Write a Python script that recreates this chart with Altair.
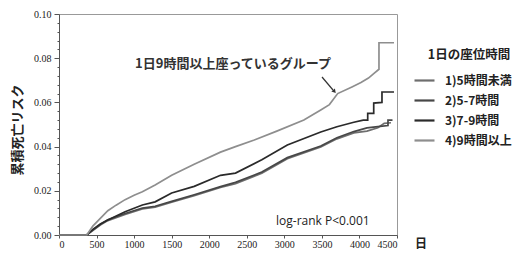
import altair as alt
import pandas as pd

# ---- data ----
labels = ["1)5時間未満", "2)5-7時間", "3)7-9時間", "4)9時間以上"]
colors = ["#6e6e6e", "#474747", "#2a2a2a", "#8e8e8e"]

g1_days = [0, 370, 450, 550, 650, 880, 1110, 1280, 1500, 1800, 2150, 2350, 2700, 3040, 3485, 3700, 3925, 4100, 4245, 4330, 4420]
g1_risk = [0, 0, 0.002, 0.0045, 0.0065, 0.0093, 0.0118, 0.0126, 0.0148, 0.0178, 0.0215, 0.0232, 0.028, 0.0345, 0.0398, 0.0435, 0.0462, 0.0470, 0.0485, 0.0505, 0.0508]

g2_days = [0, 370, 450, 550, 650, 880, 1110, 1280, 1500, 1800, 2150, 2350, 2700, 3040, 3485, 3700, 3925, 4100, 4245, 4380, 4380, 4440]
g2_risk = [0, 0, 0.0022, 0.0048, 0.0069, 0.0097, 0.0122, 0.0130, 0.0152, 0.0182, 0.0219, 0.0238, 0.0285, 0.0350, 0.0403, 0.0440, 0.0468, 0.0485, 0.0490, 0.0495, 0.0520, 0.0520]

g3_days = [0, 370, 450, 550, 650, 880, 1110, 1280, 1500, 1800, 2150, 2350, 2700, 3040, 3485, 3700, 3925, 4050, 4110, 4110, 4190, 4190, 4300, 4300, 4460]
g3_risk = [0, 0, 0.0025, 0.005, 0.0068, 0.0105, 0.0136, 0.015, 0.019, 0.022, 0.027, 0.028, 0.034, 0.0407, 0.0466, 0.049, 0.051, 0.052, 0.052, 0.055, 0.055, 0.0597, 0.0600, 0.0647, 0.0647]

g4_days = [0, 370, 450, 550, 650, 760, 880, 1000, 1110, 1280, 1500, 1800, 2150, 2350, 2600, 2900, 3260, 3485, 3600, 3710, 3900, 4020, 4120, 4190, 4260, 4260, 4460]
g4_risk = [0, 0, 0.004, 0.0075, 0.011, 0.0135, 0.016, 0.018, 0.0196, 0.0226, 0.027, 0.032, 0.0375, 0.040, 0.043, 0.047, 0.052, 0.0566, 0.059, 0.064, 0.067, 0.069, 0.071, 0.073, 0.075, 0.087, 0.087]

x_ticks = [0, 500, 1000, 1500, 2000, 2500, 3000, 3500, 4000, 4500]

rows = []
for lab, days, risk in zip(labels, [g1_days, g2_days, g3_days, g4_days],
                           [g1_risk, g2_risk, g3_risk, g4_risk]):
    for i, (d, r) in enumerate(zip(days, risk)):
        rows.append({"group": lab, "day": d, "risk": r, "idx": i})
df = pd.DataFrame(rows)

y_ticks = [round(i * 0.004, 3) for i in range(26)]
is_major = "abs(datum.value*50 - round(datum.value*50)) < 0.001"

W, H = 338, 221
CJK = "Noto Sans CJK JP"

lines = alt.Chart(df).mark_line(strokeWidth=1.7).encode(
    x=alt.X("day:Q", scale=alt.Scale(domain=[0, 4500], nice=False),
            axis=alt.Axis(values=x_ticks, title=None, format="d", tickSize=3,
                          labelPadding=1, labelOverlap=False)),
    y=alt.Y("risk:Q", scale=alt.Scale(domain=[0, 0.1], nice=False),
            axis=alt.Axis(values=y_ticks, title=None, labelOverlap=False,
                          labelExpr=f"{is_major} ? format(datum.value, '.2f') : ''",
                          tickSize={"condition": {"test": is_major, "value": 5}, "value": 2},
                          labelPadding=3)),
    color=alt.Color("group:N", scale=alt.Scale(domain=labels, range=colors),
                    legend=alt.Legend(title=None, orient="none", legendX=354, legendY=55,
                                      symbolType="stroke", symbolSize=400,
                                      symbolStrokeWidth=2.2, labelFont=CJK,
                                      labelFontSize=12, labelFontWeight="bold",
                                      labelColor="#222", labelOffset=9, rowPadding=2)),
    order="idx:Q",
)

def txt(text, x, y, size, weight="bold", font=CJK, align="center", angle=0, color="#222"):
    kw = dict(fontSize=size, fontWeight=weight, font=font, align=align,
              baseline="middle", color=color)
    if angle:
        kw["angle"] = angle
    return alt.Chart(pd.DataFrame({"t": [text]})).mark_text(**kw).encode(
        text="t:N", x=alt.value(x), y=alt.value(y))

annot = txt("1日9時間以上座っているグループ", 174, 50, 13, color="#333")
ytitle = txt("累積死亡リスク", -41, 116, 13, angle=270)
xtitle = txt("日", 362, 230, 12)
legtitle = txt("1日の座位時間", 410, 41, 12.5)
logrank = txt("log-rank P<0.001", 217, 207, 12, weight="normal", font="Open Sans", align="left")

arrow = alt.Chart(pd.DataFrame({"a": [0]})).mark_rule(color="#333", strokeWidth=1.2).encode(
    x=alt.value(263), x2=alt.value(274), y=alt.value(63), y2=alt.value(76))
head = alt.Chart(pd.DataFrame({"a": [0]})).mark_point(
    shape="triangle", filled=True, color="#333", size=22, angle=140, opacity=1).encode(
    x=alt.value(275), y=alt.value(77))

chart = alt.layer(lines, annot, arrow, head, ytitle, xtitle, legtitle, logrank).properties(
    width=W, height=H,
    autosize=alt.AutoSizeParams(type="none"),
    padding={"left": 51, "top": 6, "right": 122, "bottom": 18},
    background="white",
).configure_view(stroke="#999", strokeWidth=1).configure_axis(
    domainColor="#555", tickColor="#555", labelFont="Liberation Serif",
    labelFontSize=10, labelColor="#222", grid=False,
)

chart.save("out.html", embed_options={"renderer": "svg", "actions": False})
